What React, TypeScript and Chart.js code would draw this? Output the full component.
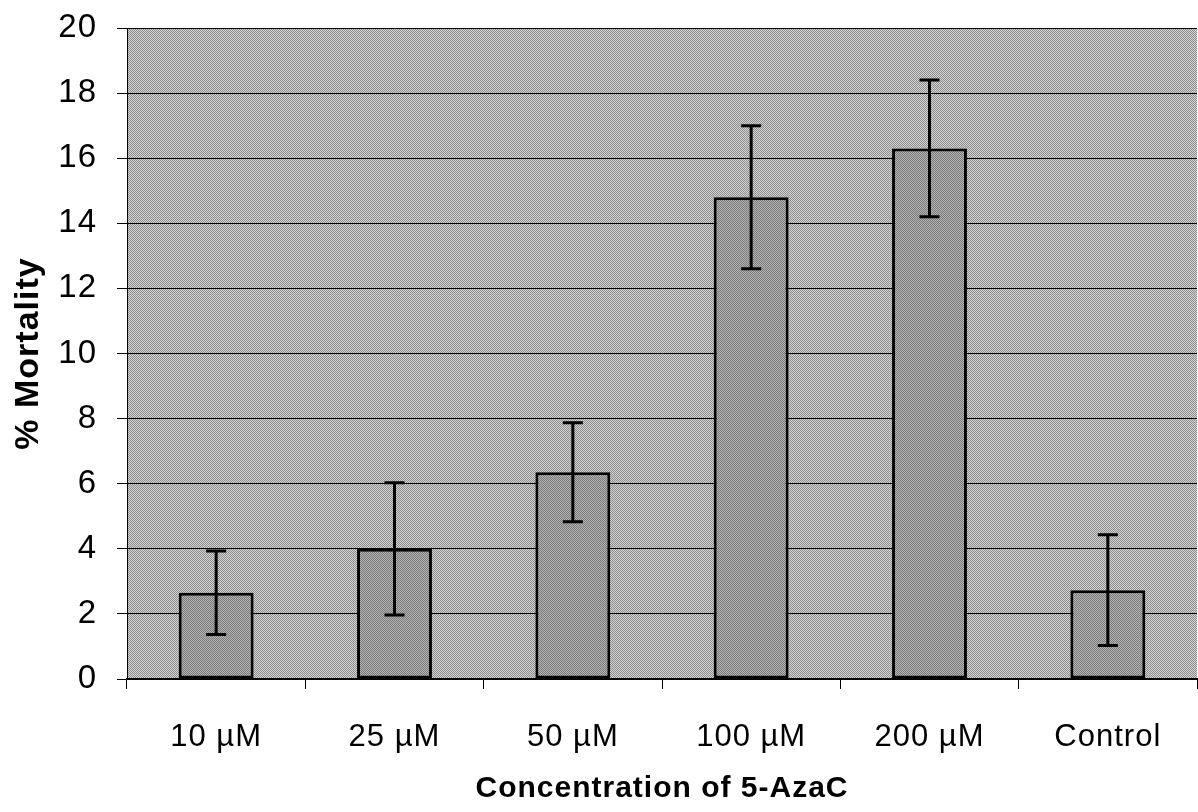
import { useEffect, useRef } from "react";
import { Chart, registerables } from "chart.js";

Chart.register(...registerables);

// Mortality by 5-AzaC concentration (mean and error)
const categories = ["10 µM", "25 µM", "50 µM", "100 µM", "200 µM", "Control"];
const mortality = [2.65, 4.0, 6.35, 14.8, 16.3, 2.73];
const mortalityError = [1.28, 2.03, 1.52, 2.2, 2.1, 1.7];

const xTitle = "Concentration of 5-AzaC";
const yTitle = "% Mortality";

const FONT = "'Liberation Sans', Arial, Helvetica, sans-serif";

// Small two-tone checker used as a halftone-like fill
function checker(light: string, dark: string): CanvasPattern | string {
  const c = document.createElement("canvas");
  c.width = 2;
  c.height = 2;
  const g = c.getContext("2d");
  if (!g) return light;
  g.fillStyle = light;
  g.fillRect(0, 0, 2, 2);
  g.fillStyle = dark;
  g.fillRect(0, 0, 1, 1);
  g.fillRect(1, 1, 1, 1);
  return g.createPattern(c, "repeat") || light;
}

export default function App() {
  const canvasRef = useRef<HTMLCanvasElement | null>(null);

  useEffect(() => {
    const canvas = canvasRef.current;
    if (!canvas) return;

    const plotFill = checker("#d2d2d2", "#8e8e8e");
    const barFill = checker("#b4b4b4", "#7a7a7a");

    // Slightly spaced lettering for all chart text
    const spacing = {
      id: "spacing",
      beforeUpdate(chart: any) {
        (chart.ctx as any).letterSpacing = "1px";
      },
      beforeDraw(chart: any) {
        (chart.ctx as any).letterSpacing = "1px";
      },
    };

    const plotBackground = {
      id: "plotBackground",
      beforeDraw(chart: any) {
        const { ctx, chartArea } = chart;
        ctx.save();
        ctx.fillStyle = plotFill;
        ctx.fillRect(
          chartArea.left,
          chartArea.top,
          chartArea.right - chartArea.left,
          chartArea.bottom - chartArea.top
        );
        ctx.restore();
      },
    };

    const errorBars = {
      id: "errorBars",
      afterDatasetsDraw(chart: any) {
        const { ctx } = chart;
        const yScale = chart.scales.y;
        const meta = chart.getDatasetMeta(0);
        ctx.save();
        ctx.strokeStyle = "#000";
        ctx.lineWidth = 3;
        ctx.lineCap = "butt";
        meta.data.forEach((bar: any, i: number) => {
          const v = mortality[i];
          const e = mortalityError[i];
          const x = bar.x;
          const yHi = yScale.getPixelForValue(v + e);
          const yLo = yScale.getPixelForValue(v - e);
          const cap = 10;
          ctx.beginPath();
          ctx.moveTo(x, yHi);
          ctx.lineTo(x, yLo);
          ctx.moveTo(x - cap, yHi);
          ctx.lineTo(x + cap, yHi);
          ctx.moveTo(x - cap, yLo);
          ctx.lineTo(x + cap, yLo);
          ctx.stroke();
        });
        ctx.restore();
      },
    };

    const chart = new Chart(canvas, {
      type: "bar",
      data: {
        labels: categories,
        datasets: [
          {
            data: mortality,
            backgroundColor: barFill as any,
            borderColor: "#000",
            borderWidth: 3,
            borderSkipped: false,
            barPercentage: 0.42,
            categoryPercentage: 1,
          },
        ],
      },
      options: {
        animation: false,
        responsive: false,
        maintainAspectRatio: false,
        layout: { padding: { top: 28, right: 1, left: 0, bottom: 0 } },
        plugins: {
          legend: { display: false },
          tooltip: { enabled: false },
        },
        scales: {
          x: {
            grid: {
              offset: true,
              drawOnChartArea: false,
              drawTicks: true,
              tickLength: 10,
              color: "#000",
              lineWidth: 1,
            },
            border: { display: true, color: "#000", width: 2 },
            ticks: {
              color: "#000",
              padding: 30,
              font: { family: FONT, size: 31 },
              maxRotation: 0,
              autoSkip: false,
            },
            title: {
              display: true,
              text: xTitle,
              color: "#000",
              font: { family: FONT, size: 30, weight: "bold" },
              padding: { top: 8, bottom: 5 },
            },
            afterFit(scale: any) {
              scale.height = 133;
              scale.paddingLeft = 0;
              scale.paddingRight = 0;
            },
          },
          y: {
            min: 0,
            max: 20,
            ticks: {
              stepSize: 2,
              color: "#000",
              padding: 20,
              font: { family: FONT, size: 33 },
            },
            grid: {
              color: "#000",
              lineWidth: 1,
              tickLength: 10,
            },
            border: { display: true, color: "#000", width: 1 },
            title: {
              display: true,
              text: yTitle,
              color: "#000",
              font: { family: FONT, size: 34, weight: "bold" },
              padding: { top: 8, bottom: 0 },
            },
            afterFit(scale: any) {
              scale.width = 127;
              scale.paddingTop = 0;
              scale.paddingBottom = 0;
            },
          },
        },
      },
      plugins: [spacing, plotBackground, errorBars],
    });

    return () => chart.destroy();
  }, []);

  return (
    <div style={{ position: "fixed", left: 0, top: 0, width: 1198, height: 812, background: "#fff" }}>
      <canvas ref={canvasRef} width={1198} height={812} style={{ display: "block" }} />
    </div>
  );
}
